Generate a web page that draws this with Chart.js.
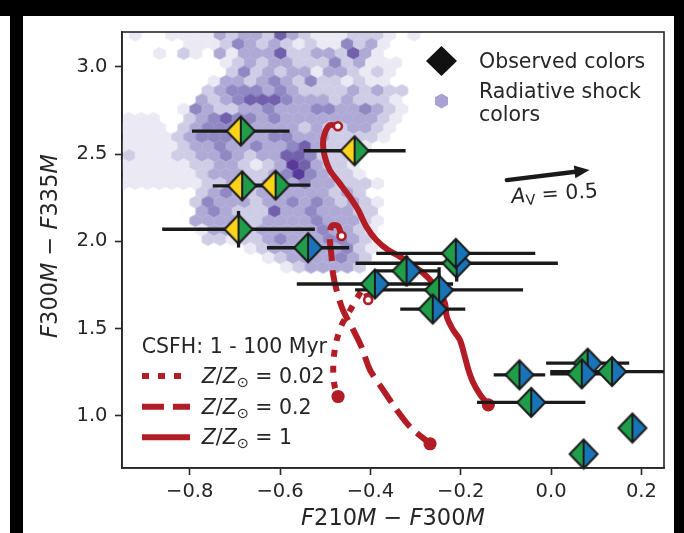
<!DOCTYPE html>
<html>
<head>
<meta charset="utf-8">
<title>F300M-F335M vs F210M-F300M</title>
<script src="https://cdn.jsdelivr.net/npm/chart.js@4.4.1/dist/chart.umd.min.js"></script>
<style>
  html, body { margin:0; padding:0; background:#fff; }
  #wrap { position:relative; width:684px; height:533px; overflow:hidden; background:#fff; }
  #c { position:absolute; left:0; top:0; }
  .edge { position:absolute; background:#000; }
</style>
</head>
<body>
<div id="wrap">
  <canvas id="c" width="684" height="533"></canvas>
  <div class="edge" style="left:0;top:0;width:684px;height:16px;"></div>
  <div class="edge" style="left:10px;top:0;width:13px;height:533px;"></div>
  <div class="edge" style="left:674px;top:0;width:10px;height:533px;"></div>
</div>
<script>
// ---------------- data ----------------
const X_RANGE = [-0.95, 0.25];
const Y_RANGE = [0.7, 3.2];
const X_TICKS = [-0.8, -0.6, -0.4, -0.2, 0.0, 0.2];
const Y_TICKS = [1.0, 1.5, 2.0, 2.5, 3.0];

// observed colours (diamonds)
const OBS_X    = [-0.687, -0.435, -0.684, -0.610, -0.692, -0.538, -0.209, -0.211, -0.320, -0.390, -0.248, -0.262, -0.070, -0.044, 0.081, 0.068, 0.135, 0.180, 0.072];
const OBS_Y    = [ 2.632,  2.519,  2.318,  2.322,  2.069,  1.963,  1.874,  1.931,  1.830,  1.755,  1.721,  1.611,  1.234,  1.076, 1.301, 1.240, 1.253, 0.929, 0.780];
const OBS_XERR = [ 0.108,  0.113,  0.065,  0.077,  0.169,  0.091,  0.224,  0.176,  0.072,  0.173,  0.186,  0.072,  0.057,  0.120, 0.092, 0.070, 0.137, 0.000, 0.000];
const OBS_YERR = [ 0.000,  0.000,  0.000,  0.000,  0.105,  0.000,  0.105,  0.000,  0.088,  0.050,  0.130,  0.000,  0.000,  0.000, 0.000, 0.000, 0.000, 0.000, 0.000];
const OBS_LEFT  = ['Y','Y','Y','Y','Y','G','G','G','G','G','G','G','G','G','G','G','G','G','G'];
const OBS_RIGHT = ['G','G','G','G','G','B','B','B','B','B','B','B','B','B','B','B','B','B','B'];

// CSFH model tracks (1 - 100 Myr)
const Z002_X = [-0.405, -0.4146, -0.428, -0.4457, -0.4634, -0.4745, -0.481, -0.4823, -0.4789, -0.4716];
const Z002_Y = [ 1.664,  1.726,  1.681,  1.601,  1.521,  1.435,  1.337,  1.246,  1.165,  1.110];
const Z02_X  = [-0.464, -0.472, -0.486, -0.490, -0.486, -0.483, -0.475, -0.461, -0.438, -0.420, -0.401, -0.372, -0.342, -0.313, -0.268];
const Z02_Y  = [ 2.030,  2.088,  2.088,  2.019,  1.912,  1.817,  1.721,  1.607,  1.492,  1.396,  1.263,  1.148,  1.034,  0.938,  0.839];
const Z1_X   = [-0.472, -0.490, -0.501, -0.505, -0.501, -0.490, -0.468, -0.446, -0.427, -0.409, -0.387, -0.361, -0.335, -0.313, -0.283, -0.261, -0.246, -0.235, -0.231, -0.217, -0.202, -0.191, -0.183, -0.172, -0.157, -0.139];
const Z1_Y   = [ 2.660,  2.666,  2.619,  2.561,  2.485,  2.408,  2.332,  2.255,  2.179,  2.084,  2.007,  1.950,  1.912,  1.874,  1.817,  1.759,  1.702,  1.645,  1.568,  1.492,  1.435,  1.339,  1.263,  1.187,  1.120,  1.062];

// radiative shock colours: hexbin density levels (0 = empty) on the hex grid
const HEX_X0 = -0.9475, HEX_DX = 0.02683, HEX_Y0 = 3.1833, HEX_DY = 0.05327;
const HEX_ROWS = [
  "01001111323325321112221010",
  "00000111243232121142310000",
  "00010210313335223325310000",
  "00000000123233222423111000",
  "00000000024232331332121000",
  "00000001332343242212110000",
  "00000002344434322223232200",
  "00000032345554333232221000",
  "00000143223343334433432100",
  "11100234544343333333321000",
  "11110234444333323223321000",
  "11112344433344333222210000",
  "11111233433433453222100000",
  "21112233432335542220000000",
  "11111122332123653221000000",
  "11111123332234643221000000",
  "11111112233233343322210000",
  "00000023432333333232000000",
  "00000024333233434323210000",
  "00000034322253343332200000",
  "00000033332233334333210000",
  "00000013332333334332100000",
  "00000002212234333443200000",
  "00000000001233333342100000",
  "00000000000012333343200000",
  "00000000000001233332000000"
];
const HEX_COLORS = ['', '#ebe9f4', '#cfcce6', '#aea9d5', '#8f88c3', '#7260ad', '#573a9a'];

// extinction arrow A_V = 0.5
const ARROW_X = [-0.098, 0.085];
const ARROW_Y = [ 2.351, 2.408];

// ---------------- styles ----------------
const FONT = "'DejaVu Sans', sans-serif";
const FS = 19.5;      // tick labels
const FL = 20.5;      // legend / annotation text
const FA = 22.5;      // axis titles
const INK = '#262626';
const RED = '#b21d25';
const COLORS = { Y: '#fdd319', G: '#1f9d48', B: '#1874b7' };

// ---------------- build datasets ----------------
const pts = (xs, ys) => xs.map((x, i) => ({ x, y: ys[i] }));

const hexPoints = [];
HEX_ROWS.forEach((row, r) => {
  for (let i = 0; i < row.length; i++) {
    const v = +row[i];
    if (!v) continue;
    hexPoints.push({ x: HEX_X0 + (i + (r % 2 ? 0.5 : 0)) * HEX_DX, y: HEX_Y0 - r * HEX_DY, v });
  }
});

const hexCache = {};
function hexCanvas(v, w, r) {
  const key = v + '_' + w.toFixed(2) + '_' + r.toFixed(2);
  if (hexCache[key]) return hexCache[key];
  const W = Math.ceil(w) + 2, H = Math.ceil(r * 4 / 3) + 2;
  const c = document.createElement('canvas'); c.width = W; c.height = H;
  const g = c.getContext('2d');
  const cx = W / 2, cy = H / 2;
  g.beginPath();
  g.moveTo(cx, cy - 2 * r / 3);
  g.lineTo(cx + w / 2, cy - r / 3);
  g.lineTo(cx + w / 2, cy + r / 3);
  g.lineTo(cx, cy + 2 * r / 3);
  g.lineTo(cx - w / 2, cy + r / 3);
  g.lineTo(cx - w / 2, cy - r / 3);
  g.closePath();
  g.fillStyle = HEX_COLORS[v]; g.fill();
  g.strokeStyle = HEX_COLORS[v]; g.lineWidth = 0.6; g.stroke();
  hexCache[key] = c;
  return c;
}
function hexStyle(ctx) {
  const v = (ctx.raw && ctx.raw.v) || 1;
  const xs = ctx.chart.scales.x, ys = ctx.chart.scales.y;
  let w = 12.1, r = 9.3;
  if (xs && ys && xs.width > 0) {
    w = Math.abs(xs.getPixelForValue(HEX_DX) - xs.getPixelForValue(0));
    r = Math.abs(ys.getPixelForValue(0) - ys.getPixelForValue(HEX_DY));
  }
  return hexCanvas(v, w, r);
}

const diamondCache = {};
function diamondStyle(ctx) {
  const k = (ctx.raw && ctx.raw.k) || 'GB';
  if (diamondCache[k]) return diamondCache[k];
  const a = 14, b = 14.5, W = 34, H = 35;
  const c = document.createElement('canvas'); c.width = W; c.height = H;
  const g = c.getContext('2d');
  const cx = W / 2, cy = H / 2;
  g.fillStyle = COLORS[k[0]];
  g.beginPath(); g.moveTo(cx, cy - b); g.lineTo(cx - a, cy); g.lineTo(cx, cy + b); g.closePath(); g.fill();
  g.fillStyle = COLORS[k[1]];
  g.beginPath(); g.moveTo(cx, cy - b); g.lineTo(cx + a, cy); g.lineTo(cx, cy + b); g.closePath(); g.fill();
  g.strokeStyle = '#1a1a1a'; g.lineWidth = 2; g.lineJoin = 'miter';
  g.beginPath(); g.moveTo(cx, cy - b); g.lineTo(cx + a, cy); g.lineTo(cx, cy + b); g.lineTo(cx - a, cy); g.closePath(); g.stroke();
  g.beginPath(); g.moveTo(cx, cy - b); g.lineTo(cx, cy + b); g.stroke();
  diamondCache[k] = c;
  return c;
}

const tracks = [
  { label: 'Z/Zsun = 0.02', x: Z002_X, y: Z002_Y, dash: [7, 9] },
  { label: 'Z/Zsun = 0.2',  x: Z02_X,  y: Z02_Y,  dash: [22, 9] },
  { label: 'Z/Zsun = 1',    x: Z1_X,   y: Z1_Y,   dash: [] }
];

const errorSegs = [];
OBS_X.forEach((x, i) => {
  const y = OBS_Y[i];
  if (OBS_XERR[i] > 0) errorSegs.push([{ x: x - OBS_XERR[i], y }, { x: x + OBS_XERR[i], y }]);
  if (OBS_YERR[i] > 0) errorSegs.push([{ x, y: y - OBS_YERR[i] }, { x, y: y + OBS_YERR[i] }]);
});

const datasets = [
  { label: 'Radiative shock colors', data: hexPoints, pointStyle: hexStyle, pointRadius: 6, order: 100 },
  ...tracks.map(t => ({
    type: 'line', label: t.label, data: pts(t.x, t.y), borderColor: RED, borderWidth: 6,
    borderDash: t.dash, borderCapStyle: 'butt', borderJoinStyle: 'round', tension: 0.3,
    pointRadius: 0, fill: false, order: 50
  })),
  { label: 'track start', data: tracks.map(t => ({ x: t.x[0], y: t.y[0] })), pointStyle: 'circle',
    pointRadius: 4, borderWidth: 2.6, borderColor: RED, backgroundColor: '#ffffff', order: 40 },
  { label: 'track end', data: tracks.map(t => ({ x: t.x[t.x.length - 1], y: t.y[t.y.length - 1] })), pointStyle: 'circle',
    pointRadius: 6.6, borderWidth: 0, backgroundColor: RED, order: 40 },
  ...errorSegs.map(seg => ({
    type: 'line', label: 'err', data: seg, borderColor: '#1a1a1a', borderWidth: 3.3,
    borderCapStyle: 'butt', pointRadius: 0, fill: false, tension: 0, order: 30
  })),
  { label: 'Observed colors', data: OBS_X.map((x, i) => ({ x, y: OBS_Y[i], k: OBS_LEFT[i] + OBS_RIGHT[i] })),
    pointStyle: diamondStyle, pointRadius: 14, clip: false, order: 10 }
];

// ---------------- text helper ----------------
function drawRuns(g, x, y, runs, align, size) {
  size = size || FS;
  const items = runs.map(r => {
    const s = r.sub ? size * 0.7 : size;
    const font = (r.it ? 'italic ' : '') + s + 'px ' + FONT;
    g.font = font;
    return { t: r.t, font, w: g.measureText(r.t).width, dy: r.sub ? r.sub : 0 };
  });
  const total = items.reduce((a, b) => a + b.w, 0);
  let cx = align === 'center' ? x - total / 2 : x;
  g.textAlign = 'left';
  for (const it of items) { g.font = it.font; g.fillText(it.t, cx, y + it.dy); cx += it.w; }
}

// ---------------- annotation plugin ----------------
const annot = {
  id: 'annot',
  afterDatasetsDraw(chart) {
    const g = chart.ctx, ca = chart.chartArea, xs = chart.scales.x, ys = chart.scales.y;
    g.save();
    // extinction arrow
    const x0 = xs.getPixelForValue(ARROW_X[0]), y0 = ys.getPixelForValue(ARROW_Y[0]);
    const x1 = xs.getPixelForValue(ARROW_X[1]), y1 = ys.getPixelForValue(ARROW_Y[1]);
    const ang = Math.atan2(y1 - y0, x1 - x0);
    const hl = 15, hw = 6.5;
    const bx = x1 - hl * Math.cos(ang), by = y1 - hl * Math.sin(ang);
    g.strokeStyle = '#1a1a1a'; g.fillStyle = '#1a1a1a';
    g.lineWidth = 4.4; g.lineCap = 'round';
    g.beginPath(); g.moveTo(x0, y0); g.lineTo(bx + Math.cos(ang), by + Math.sin(ang)); g.stroke();
    g.beginPath();
    g.moveTo(x1, y1);
    g.lineTo(bx + hw * Math.sin(ang), by - hw * Math.cos(ang));
    g.lineTo(bx - hw * Math.sin(ang), by + hw * Math.cos(ang));
    g.closePath(); g.fill();
    // arrow label
    g.fillStyle = INK; g.textBaseline = 'alphabetic';
    g.save();
    g.translate(x0 + 5, y0 + 23);
    g.rotate(-4 * Math.PI / 180);
    drawRuns(g, 0, 0, [{ t: 'A', it: 1 }, { t: 'V', sub: 3 }, { t: ' = 0.5' }], 'left', FL);
    g.restore();

    // legend 1 (top right)
    const lx = ca.right - 222.5, tx = ca.right - 185;
    g.fillStyle = '#111';
    g.beginPath();
    g.moveTo(lx, ca.top + 29 - 15); g.lineTo(lx + 15.5, ca.top + 29); g.lineTo(lx, ca.top + 29 + 15); g.lineTo(lx - 15.5, ca.top + 29);
    g.closePath(); g.fill();
    const hc = ca.top + 69, hw2 = 6.5, hr = 5;
    g.fillStyle = '#a8a1d2';
    g.beginPath();
    g.moveTo(lx, hc - 2 * hr * 0.75); g.lineTo(lx + hw2, hc - hr * 0.75); g.lineTo(lx + hw2, hc + hr * 0.75);
    g.lineTo(lx, hc + 2 * hr * 0.75); g.lineTo(lx - hw2, hc + hr * 0.75); g.lineTo(lx - hw2, hc - hr * 0.75);
    g.closePath(); g.fill();
    g.fillStyle = INK; g.font = FL + 'px ' + FONT; g.textAlign = 'left';
    g.fillText('Observed colors', tx, ca.top + 35.5);
    g.fillText('Radiative shock', tx, ca.top + 65.8);
    g.fillText('colors', tx, ca.top + 88.8);

    // legend 2 (bottom left)
    g.fillText('CSFH: 1 - 100 Myr', ca.left + 19.7, ca.bottom - 114.7);
    const rowsY = [ca.bottom - 92, ca.bottom - 61.3, ca.bottom - 30.7];
    const labels = ['0.02', '0.2', '1'];
    tracks.forEach((t, i) => {
      g.strokeStyle = RED; g.lineWidth = 6; g.lineCap = 'butt';
      g.setLineDash(t.dash);
      g.beginPath(); g.moveTo(ca.left + 20, rowsY[i]); g.lineTo(ca.left + 68, rowsY[i]); g.stroke();
      g.setLineDash([]);
      g.fillStyle = INK;
      drawRuns(g, ca.left + 79.7, rowsY[i] + 6.8,
        [{ t: 'Z', it: 1 }, { t: '/' }, { t: 'Z', it: 1 }, { t: '\u2299', sub: 4 }, { t: ' = ' + labels[i] }], 'left', FL);
    });
    g.restore();
  },
  afterDraw(chart) {
    const g = chart.ctx, ca = chart.chartArea;
    g.save();
    g.strokeStyle = INK; g.lineWidth = 1.6;
    g.strokeRect(ca.left, ca.top, ca.right - ca.left, ca.bottom - ca.top);
    g.fillStyle = INK; g.textBaseline = 'middle';
    drawRuns(g, (ca.left + ca.right) / 2, 519,
      [{ t: 'F', it: 1 }, { t: '210' }, { t: 'M', it: 1 }, { t: ' \u2212 ' }, { t: 'F', it: 1 }, { t: '300' }, { t: 'M', it: 1 }], 'center', FA);
    g.translate(51, (ca.top + ca.bottom) / 2 - 4);
    g.rotate(-Math.PI / 2);
    drawRuns(g, 0, 0,
      [{ t: 'F', it: 1 }, { t: '300' }, { t: 'M', it: 1 }, { t: ' \u2212 ' }, { t: 'F', it: 1 }, { t: '335' }, { t: 'M', it: 1 }], 'center', FA);
    g.restore();
  }
};

const fmt = v => (Math.abs(v) < 1e-9 ? 0 : v).toFixed(1).replace('-', '\u2212');

new Chart(document.getElementById('c'), {
  type: 'scatter',
  data: { datasets },
  options: {
    responsive: false,
    animation: false,
    devicePixelRatio: 1,
    events: [],
    layout: { padding: { left: 0, right: 20, top: 32, bottom: 0 } },
    plugins: { legend: { display: false }, tooltip: { enabled: false } },
    scales: {
      x: {
        type: 'linear', min: X_RANGE[0], max: X_RANGE[1],
        afterBuildTicks: s => { s.ticks = X_TICKS.map(v => ({ value: v })); },
        afterFit: s => { s.height = 65; },
        ticks: { callback: v => fmt(v), font: { family: FONT, size: FS }, color: INK, padding: 5, maxRotation: 0, autoSkip: false },
        grid: { drawOnChartArea: false, drawTicks: true, tickLength: 7, tickWidth: 1.6, tickColor: INK },
        border: { display: true, color: INK, width: 1.6 }
      },
      y: {
        type: 'linear', min: Y_RANGE[0], max: Y_RANGE[1],
        afterBuildTicks: s => { s.ticks = Y_TICKS.map(v => ({ value: v })); },
        afterFit: s => { s.width = 122; },
        ticks: { callback: v => fmt(v), font: { family: FONT, size: FS }, color: INK, padding: 7.5, autoSkip: false },
        grid: { drawOnChartArea: false, drawTicks: true, tickLength: 7, tickWidth: 1.6, tickColor: INK },
        border: { display: true, color: INK, width: 1.6 }
      }
    }
  },
  plugins: [annot]
});
</script>
</body>
</html>
